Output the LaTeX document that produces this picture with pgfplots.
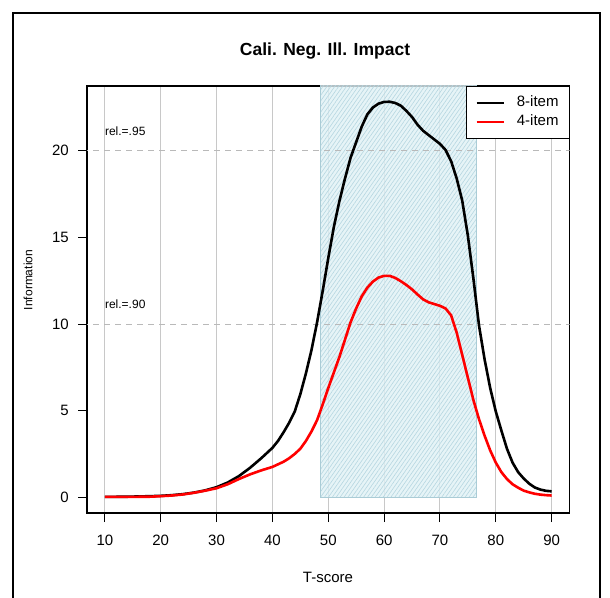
\documentclass[border=0pt]{standalone}
\usepackage{pgfplots}
\pgfplotsset{compat=1.18}
\usepackage{pgfplotstable}
\usepackage{fontspec}
\setmainfont{Liberation Sans}
\usetikzlibrary{patterns.meta}

\definecolor{gridgray}{RGB}{200,200,200}
\definecolor{dashgray}{RGB}{185,185,185}
\definecolor{shadefill}{RGB}{224,241,245}
\definecolor{shadeline}{RGB}{182,215,225}
\definecolor{shadeedge}{RGB}{170,204,214}

% information curves
\pgfplotstableread{
T info
10 0.02
14 0.03
18 0.06
20 0.08
22 0.12
24 0.18
26 0.27
28 0.40
30 0.58
32 0.85
34 1.22
36 1.70
38 2.25
40 2.85
41 3.25
42 3.75
43 4.30
44 4.95
45 5.95
46 7.15
47 8.50
48 10.1
49 11.9
50 13.8
51 15.6
52 17.1
53 18.4
54 19.6
55 20.5
56 21.4
57 22.1
58 22.5
59 22.72
60 22.82
61 22.83
62 22.76
63 22.6
64 22.3
65 21.95
66 21.5
67 21.15
68 20.9
69 20.65
70 20.4
71 20.05
72 19.4
73 18.4
74 17.1
75 15.1
76 12.6
77 9.9
78 7.95
79 6.3
80 4.95
81 3.85
82 2.8
83 2.0
84 1.45
85 1.08
86 0.78
87 0.56
88 0.44
89 0.37
90 0.34
}\eightitem

\pgfplotstableread{
T info
10 0.02
14 0.02
18 0.03
20 0.06
22 0.10
24 0.16
26 0.26
28 0.38
30 0.52
32 0.75
34 1.05
36 1.32
38 1.55
40 1.75
42 2.05
43 2.25
44 2.50
45 2.80
46 3.25
47 3.80
48 4.45
49 5.35
50 6.30
51 7.20
52 8.10
53 9.10
54 10.1
55 10.9
56 11.6
57 12.1
58 12.45
59 12.68
60 12.78
61 12.78
62 12.66
63 12.47
64 12.25
65 12.0
66 11.7
67 11.42
68 11.25
69 11.15
70 11.05
71 10.9
72 10.5
73 9.5
74 8.2
75 6.9
76 5.6
77 4.5
78 3.55
79 2.7
80 2.0
81 1.45
82 1.05
83 0.75
84 0.55
85 0.38
86 0.28
87 0.20
88 0.15
89 0.12
90 0.10
}\fouritem

\begin{document}
\begin{tikzpicture}
\path[use as bounding box] (0,0) rectangle (610bp,598bp);
% outer frame
\draw[line width=2bp] (13bp,-10bp) -- (13bp,585bp) -- (600bp,585bp) -- (600bp,-10bp);

\begin{axis}[
  at={(87bp,85bp)}, anchor=south west,
  scale only axis,
  width=482.5bp, height=427bp,
  xmin=6.8, xmax=93.2,
  ymin=-0.91, ymax=23.74,
  xtick={10,20,...,90},
  ytick={0,5,...,20},
  xtick pos=bottom, ytick pos=left,
  tick align=outside,
  major tick length=9bp,
  tick style={black, line width=1bp},
  axis line style={line width=1.2bp},
  xmajorgrids,
  grid style={gridgray, line width=1bp},
  ticklabel style={font=\fontsize{15bp}{18bp}\selectfont},
  /pgf/number format/assume math mode=true,
  xticklabel style={anchor=north, inner sep=0pt},
  yticklabel style={anchor=east, inner sep=0pt},
  xticklabel shift=13bp,
  yticklabel shift=9bp,
  legend style={at={(1,1)}, anchor=north east, draw=black, line width=1bp,
    inner xsep=8.5bp, inner ysep=7bp,
    font=\fontsize{15bp}{18bp}\selectfont,
    nodes={inner xsep=2bp, inner ysep=2bp, text height=11bp, text depth=4bp},
    column sep=10bp},
  legend cell align=left,
  legend image code/.code={\draw[#1] (0bp,0bp) -- (27bp,0bp);},
]
% shaded band
\addplot[draw=shadeedge, line width=1bp, fill=shadefill, fill opacity=0.8,
  postaction={pattern={Lines[angle=55,distance=3.2bp,line width=0.6bp]}, pattern color=shadeline},
  forget plot]
  coordinates {(48.6,0) (48.6,30) (76.6,30) (76.6,0)} -- cycle;
% reliability reference lines
\addplot[dashgray, line width=1bp, dash pattern=on 6bp off 5bp, forget plot]
  coordinates {(0,20) (100,20)};
\addplot[dashgray, line width=1bp, dash pattern=on 6bp off 5bp, forget plot]
  coordinates {(0,10) (100,10)};

\addplot[black, line width=2.6bp] table[x=T, y=info] {\eightitem};
\addlegendentry{8-item}
\addplot[red, line width=2.6bp] table[x=T, y=info] {\fouritem};
\addlegendentry{4-item}

\node[anchor=west, inner sep=0pt, font=\fontsize{12bp}{14bp}\selectfont] at (axis cs:10,21.15) {rel.=.95};
\node[anchor=west, inner sep=0pt, font=\fontsize{12bp}{14bp}\selectfont] at (axis cs:10,11.15) {rel.=.90};
\end{axis}

\node[anchor=base, font=\fontsize{17.5bp}{21bp}\selectfont\bfseries] at (325bp,542.5bp) {Cali. Neg. Ill. Impact};
\node[anchor=base, font=\fontsize{15bp}{18bp}\selectfont] at (328bp,15.5bp) {T-score};
\node[anchor=base, rotate=90, font=\fontsize{12bp}{14bp}\selectfont] at (32.3bp,318bp) {Information};
\end{tikzpicture}
\end{document}
